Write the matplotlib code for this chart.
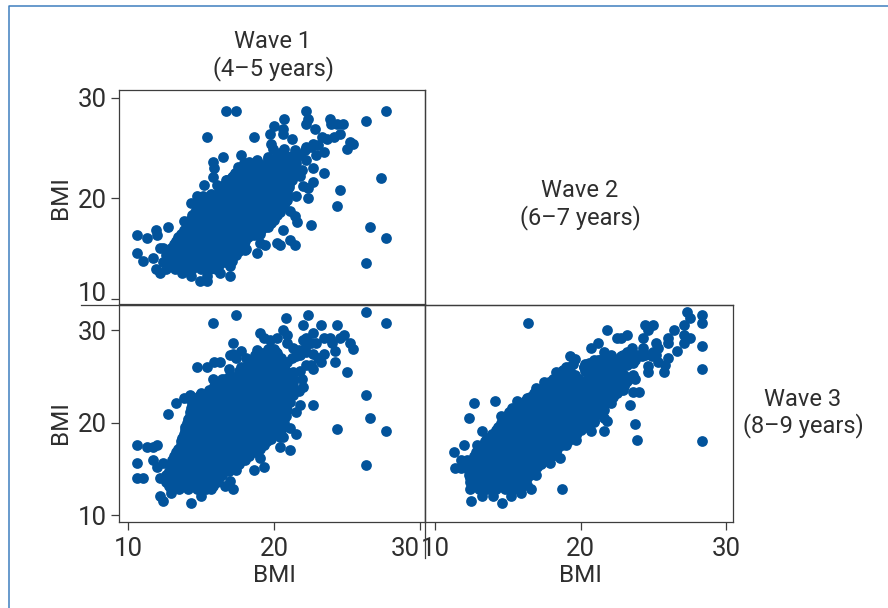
import matplotlib
matplotlib.use("Agg")
import matplotlib.pyplot as plt
from matplotlib.lines import Line2D

plt.rcParams['font.family'] = ['Roboto', 'DejaVu Sans']

W, H = 888, 608
DOT = '#02539b'
INK = '#2e2e2e'
FRAME = '#3d3d3d'
BORDER = '#3f7fbf'

# ---- Panel top-left: Wave 1 (x) against Wave 2 (y) ----
p1_edge_x = [16.7, 17.4, 15.4, 18.6, 20.7, 20.0, 19.7, 20.6, 20.6, 22.2, 22.3, 22.2, 22.8, 23.8, 23.9, 24.3, 24.7,
             26.3, 27.7, 23.3, 23.6, 24.1, 24.5, 25.2, 25.4, 25.0, 21.2, 19.8, 19.9, 20.7, 16.5, 17.7, 15.8, 15.9,
             15.8, 15.2, 27.3, 23.4, 22.7, 22.2, 23.4, 22.9, 22.7, 22.2, 21.9, 21.8, 22.7, 22.3, 22.0, 24.5, 22.3,
             24.3, 21.5, 21.1, 21.4, 21.6, 22.5, 20.6, 26.6, 27.7, 26.3, 21.4, 21.1, 20.2, 20.4, 19.4, 18.8, 19.0,
             18.0, 17.0, 17.1, 17.0, 16.3, 15.4, 15.4, 14.9, 14.3, 13.7, 12.2, 11.9, 10.6, 11.3, 11.9, 12.0, 12.7,
             10.6, 11.0, 11.7, 12.2, 12.4]
p1_edge_y = [28.7, 28.7, 26.1, 26.1, 27.9, 27.2, 26.4, 26.9, 26.4, 28.7, 27.9, 27.4, 26.9, 27.9, 27.4, 27.4, 27.4,
             27.7, 28.7, 26.1, 25.9, 26.1, 26.4, 25.6, 25.4, 24.9, 25.9, 25.4, 24.9, 24.9, 24.1, 24.3, 23.6, 23.0,
             22.1, 21.3, 22.0, 22.5, 23.0, 23.8, 24.6, 24.3, 25.4, 25.1, 22.8, 22.2, 21.6, 21.0, 21.2, 20.8, 20.0,
             19.2, 20.2, 18.7, 18.2, 17.7, 17.4, 16.9, 17.2, 16.1, 13.6, 15.4, 15.9, 15.6, 15.4, 15.4, 14.6, 15.6,
             14.9, 13.3, 13.8, 12.3, 12.6, 12.3, 11.8, 11.8, 12.3, 12.6, 12.6, 13.0, 16.4, 16.1, 16.9, 16.4, 17.2,
             14.6, 13.8, 14.1, 15.1, 15.1]
p1_extra_x = [21.4, 21.8, 22.1, 22.5, 23.0, 21.3, 21.5, 21.3, 20.9, 20.9, 20.2, 19.5, 19.0, 18.6, 18.1, 17.5, 17.9,
              18.3, 18.8, 19.6, 20.4, 20.7, 17.2, 16.7, 16.1, 15.1, 14.7, 14.3, 13.8]
p1_extra_y = [24.8, 24.3, 24.8, 25.1, 25.3, 24.1, 23.5, 22.5, 21.2, 19.8, 18.5, 17.5, 16.5, 16.4, 15.0, 23.1, 23.5,
              23.6, 23.8, 24.1, 24.5, 24.1, 22.2, 21.8, 21.3, 20.2, 20.2, 19.5, 17.8]
p1_core_y = [13.0, 13.7, 14.4, 15.1, 15.8, 16.5, 17.2, 17.9, 18.6, 19.3, 20.0, 20.7, 21.4, 22.1, 22.8, 23.5, 24.2]
p1_core_x = [
    [12.6, 13.2, 13.8, 14.4, 15.0, 15.6, 16.0],
    [12.4, 13.0, 13.6, 14.2, 14.8, 15.4, 16.0, 16.6],
    [12.6, 13.2, 13.8, 14.4, 15.0, 15.6, 16.2, 16.8, 17.4],
    [12.9, 13.5, 14.1, 14.7, 15.3, 15.9, 16.5, 17.1, 17.7],
    [13.3, 13.9, 14.5, 15.1, 15.7, 16.3, 16.9, 17.5, 18.0],
    [13.6, 14.2, 14.8, 15.4, 16.0, 16.6, 17.2, 17.8, 18.4, 18.9],
    [14.0, 14.6, 15.2, 15.8, 16.4, 17.0, 17.6, 18.2, 18.8, 19.4, 19.6],
    [14.2, 14.8, 15.4, 16.0, 16.6, 17.2, 17.8, 18.4, 19.0, 19.6, 20.0],
    [14.6, 15.2, 15.8, 16.4, 17.0, 17.6, 18.2, 18.8, 19.4, 20.0, 20.4],
    [14.8, 15.4, 16.0, 16.6, 17.2, 17.8, 18.4, 19.0, 19.6, 20.2, 20.7],
    [15.3, 15.9, 16.5, 17.1, 17.7, 18.3, 18.9, 19.5, 20.1, 20.7],
    [16.2, 16.8, 17.4, 18.0, 18.6, 19.2, 19.8, 20.4, 20.9],
    [16.6, 17.2, 17.8, 18.4, 19.0, 19.6, 20.2, 20.8, 21.0],
    [17.1, 17.7, 18.3, 18.9, 19.5, 20.1, 20.7, 21.2],
    [17.7, 18.3, 18.9, 19.5, 20.1, 20.7, 21.3],
    [18.9, 19.5, 20.1, 20.7, 21.3],
    [20.2, 20.8, 21.2],
]
p1_fill_y = [13.4, 14.1, 14.8, 15.5, 16.2, 16.9, 17.6, 18.3, 19.0, 19.7, 20.4, 21.1, 21.8, 22.5, 23.2, 23.9]
p1_fill_x = [
    [12.7, 13.3, 13.9, 14.5, 15.1, 15.7, 16.2],
    [12.8, 13.4, 14.0, 14.6, 15.2, 15.8, 16.4, 16.9],
    [12.9, 13.5, 14.1, 14.7, 15.3, 15.9, 16.5, 17.1, 17.6],
    [13.1, 13.7, 14.3, 14.9, 15.5, 16.1, 16.7, 17.3, 17.9],
    [13.4, 14.0, 14.6, 15.2, 15.8, 16.4, 17.0, 17.6, 18.2],
    [13.8, 14.4, 15.0, 15.6, 16.2, 16.8, 17.4, 18.0, 18.6, 19.1],
    [14.1, 14.7, 15.3, 15.9, 16.5, 17.1, 17.7, 18.3, 18.9, 19.5, 19.8],
    [14.4, 15.0, 15.6, 16.2, 16.8, 17.4, 18.0, 18.6, 19.2, 19.8, 20.2],
    [14.7, 15.3, 15.9, 16.5, 17.1, 17.7, 18.3, 18.9, 19.5, 20.1, 20.5],
    [15.0, 15.6, 16.2, 16.8, 17.4, 18.0, 18.6, 19.2, 19.8, 20.4, 20.8],
    [15.7, 16.3, 16.9, 17.5, 18.1, 18.7, 19.3, 19.9, 20.5, 20.9],
    [16.4, 17.0, 17.6, 18.2, 18.8, 19.4, 20.0, 20.6, 21.0],
    [16.8, 17.4, 18.0, 18.6, 19.2, 19.8, 20.4, 21.0, 21.2],
    [17.3, 17.9, 18.5, 19.1, 19.7, 20.3, 20.9, 21.3],
    [18.3, 18.9, 19.5, 20.1, 20.7, 21.3],
    [19.6, 20.2, 20.8, 21.2],
]

# ---- Panel bottom-left: Wave 1 (x) against Wave 3 (y) ----
p2_edge_x = [15.8, 17.4, 20.8, 22.3, 22.0, 23.2, 24.3, 26.3, 27.7, 19.0, 19.3, 20.6, 20.9, 20.2, 20.9, 22.2, 22.7,
             22.5, 22.9, 23.4, 23.8, 24.0, 24.5, 24.8, 25.2, 25.4, 24.2, 23.4, 24.2, 23.2, 22.7, 22.2, 25.0, 26.3,
             26.6, 27.7, 24.3, 26.3, 22.7, 21.8, 21.5, 22.0, 21.9, 21.3, 21.5, 21.3, 17.2, 17.7, 17.0, 18.7, 18.8,
             20.5, 14.7, 15.4, 15.9, 16.3, 16.9, 15.8, 13.8, 13.3, 12.7, 14.9, 10.6, 11.3, 11.7, 12.0, 10.6, 11.7,
             12.0, 12.4, 10.6, 11.0, 12.2, 12.2, 12.4, 12.9, 14.3, 15.0, 17.2, 16.6, 17.0, 17.4, 18.6, 19.3, 19.0,
             21.1, 20.4, 21.5, 20.6, 21.1]
p2_edge_y = [30.8, 31.7, 31.4, 31.7, 30.6, 30.6, 30.6, 32.0, 30.8, 29.7, 29.2, 30.0, 29.5, 29.2, 28.6, 29.2, 29.7,
             28.6, 28.6, 29.2, 29.2, 28.6, 29.2, 29.5, 28.6, 28.0, 27.8, 27.5, 26.6, 26.6, 25.8, 26.3, 25.5, 23.0,
             20.5, 19.1, 19.3, 15.4, 21.9, 21.9, 21.2, 23.9, 24.7, 25.5, 27.2, 28.1, 28.6, 27.8, 27.4, 27.4, 27.9,
             27.0, 26.1, 26.1, 26.6, 26.6, 25.8, 24.7, 22.7, 22.2, 21.0, 23.0, 17.6, 17.4, 17.4, 17.6, 15.7, 16.0,
             15.2, 15.7, 14.0, 14.0, 14.0, 12.1, 11.5, 12.4, 11.3, 12.1, 12.9, 13.2, 13.7, 14.9, 14.9, 15.2, 16.2,
             17.1, 17.4, 18.8, 18.5, 19.4]
p2_extra_x = [21.8, 22.2, 22.7, 23.0, 22.5, 21.8, 21.3, 21.7, 21.3, 21.1, 20.9, 20.5, 20.4, 19.8, 20.4, 19.7, 19.7,
              20.1, 20.9, 21.2, 22.0, 22.2, 21.7, 18.1, 17.4, 17.2, 17.7, 16.6, 14.2, 14.1]
p2_extra_y = [27.4, 27.7, 27.5, 27.0, 26.3, 25.6, 24.7, 23.4, 23.0, 22.3, 21.4, 20.0, 19.2, 18.3, 18.5, 28.1, 29.0,
              27.7, 26.6, 27.0, 29.0, 28.4, 27.9, 27.0, 27.0, 27.5, 26.1, 24.7, 23.0, 22.7]
p2_core_y = [12.8, 13.6, 14.4, 15.2, 16.0, 16.8, 17.6, 18.4, 19.2, 20.0, 20.8, 21.6, 22.4, 23.2, 24.0, 24.8, 25.6,
             26.4, 27.2, 28.0]
p2_core_x = [
    [12.9, 13.5, 14.1, 14.7, 15.3, 15.7],
    [12.6, 13.2, 13.8, 14.4, 15.0, 15.6, 16.1],
    [12.6, 13.2, 13.8, 14.4, 15.0, 15.6, 16.2, 16.4],
    [12.9, 13.5, 14.1, 14.7, 15.3, 15.9, 16.5, 17.1, 17.3],
    [13.0, 13.6, 14.2, 14.8, 15.4, 16.0, 16.6, 17.2, 17.8, 18.0],
    [13.3, 13.9, 14.5, 15.1, 15.7, 16.3, 16.9, 17.5, 18.1, 18.7],
    [13.6, 14.2, 14.8, 15.4, 16.0, 16.6, 17.2, 17.8, 18.4, 19.0, 19.3],
    [13.7, 14.3, 14.9, 15.5, 16.1, 16.7, 17.3, 17.9, 18.5, 19.1, 19.7],
    [13.9, 14.5, 15.1, 15.7, 16.3, 16.9, 17.5, 18.1, 18.7, 19.3, 19.9, 20.5],
    [14.0, 14.6, 15.2, 15.8, 16.4, 17.0, 17.6, 18.2, 18.8, 19.4, 20.0, 20.7],
    [14.2, 14.8, 15.4, 16.0, 16.6, 17.2, 17.8, 18.4, 19.0, 19.6, 20.2, 20.8],
    [14.3, 14.9, 15.5, 16.1, 16.7, 17.3, 17.9, 18.5, 19.1, 19.7, 20.3, 20.8],
    [14.5, 15.1, 15.7, 16.3, 16.9, 17.5, 18.1, 18.7, 19.3, 19.9, 20.5, 20.9],
    [15.0, 15.6, 16.2, 16.8, 17.4, 18.0, 18.6, 19.2, 19.8, 20.4, 21.0],
    [15.9, 16.5, 17.1, 17.7, 18.3, 18.9, 19.5, 20.1, 20.7, 21.3],
    [16.4, 17.0, 17.6, 18.2, 18.8, 19.4, 20.0, 20.6, 21.3],
    [17.6, 18.2, 18.8, 19.4, 20.0, 20.6, 20.8],
    [18.3, 18.9, 19.5, 20.1, 20.6],
    [18.9, 19.5, 20.1, 20.3],
    [19.6, 20.0],
]
p2_fill_y = [13.2, 14.0, 14.8, 15.6, 16.4, 17.2, 18.0, 18.8, 19.6, 20.4, 21.2, 22.0, 22.8, 23.6, 24.4, 25.2, 26.0,
             26.8, 27.6]
p2_fill_x = [
    [12.8, 13.4, 14.0, 14.6, 15.2, 15.8],
    [12.6, 13.2, 13.8, 14.4, 15.0, 15.6, 16.2],
    [12.8, 13.4, 14.0, 14.6, 15.2, 15.8, 16.4, 16.9],
    [13.0, 13.6, 14.2, 14.8, 15.4, 16.0, 16.6, 17.2, 17.6],
    [13.1, 13.7, 14.3, 14.9, 15.5, 16.1, 16.7, 17.3, 17.9, 18.3],
    [13.4, 14.0, 14.6, 15.2, 15.8, 16.4, 17.0, 17.6, 18.2, 18.8, 19.0],
    [13.6, 14.2, 14.8, 15.4, 16.0, 16.6, 17.2, 17.8, 18.4, 19.0, 19.5],
    [13.8, 14.4, 15.0, 15.6, 16.2, 16.8, 17.4, 18.0, 18.6, 19.2, 19.8, 20.1],
    [13.9, 14.5, 15.1, 15.7, 16.3, 16.9, 17.5, 18.1, 18.7, 19.3, 19.9, 20.6],
    [14.1, 14.7, 15.3, 15.9, 16.5, 17.1, 17.7, 18.3, 18.9, 19.5, 20.1, 20.7],
    [14.2, 14.8, 15.4, 16.0, 16.6, 17.2, 17.8, 18.4, 19.0, 19.6, 20.2, 20.8],
    [14.4, 15.0, 15.6, 16.2, 16.8, 17.4, 18.0, 18.6, 19.2, 19.8, 20.4, 20.9],
    [14.8, 15.4, 16.0, 16.6, 17.2, 17.8, 18.4, 19.0, 19.6, 20.2, 20.8],
    [15.5, 16.1, 16.7, 17.3, 17.9, 18.5, 19.1, 19.7, 20.3, 20.9, 21.2],
    [16.2, 16.8, 17.4, 18.0, 18.6, 19.2, 19.8, 20.4, 21.0, 21.3],
    [17.0, 17.6, 18.2, 18.8, 19.4, 20.0, 20.6, 21.0],
    [18.0, 18.6, 19.2, 19.8, 20.4, 20.7],
    [18.6, 19.2, 19.8, 20.4],
    [19.2, 19.8, 20.2],
]

# ---- Panel bottom-right: Wave 2 (x) against Wave 3 (y) ----
p3_edge_x = [16.4, 21.8, 22.5, 22.8, 23.2, 24.4, 25.0, 24.6, 24.3, 25.2, 25.3, 26.4, 27.1, 27.3, 27.5, 28.3, 28.3,
             28.3, 28.3, 28.3, 27.1, 27.5, 27.1, 26.0, 26.0, 26.6, 26.0, 25.8, 25.7, 25.3, 24.6, 24.6, 24.3, 23.5,
             21.2, 20.7, 21.6, 22.1, 19.3, 19.6, 18.3, 16.9, 17.5, 16.3, 15.6, 14.1, 12.7, 12.3, 14.5, 13.2, 12.0,
             11.3, 11.8, 12.2, 11.4, 12.9, 12.5, 13.2, 14.0, 14.6, 15.2, 15.9, 16.6, 18.7, 18.6, 17.9, 23.6, 24.0,
             23.4, 23.7, 23.9, 23.7, 21.6, 21.8, 20.7, 21.6, 20.9, 22.1, 19.7, 19.0, 23.2, 23.8, 24.4, 24.9]
p3_edge_y = [30.8, 30.0, 29.2, 29.2, 29.5, 30.6, 30.6, 30.0, 29.2, 28.6, 28.1, 30.0, 30.6, 32.0, 31.4, 31.7, 30.8,
             28.3, 25.8, 18.0, 29.5, 29.2, 28.6, 29.2, 28.6, 27.8, 27.0, 26.3, 25.5, 26.6, 26.2, 25.5, 28.1, 28.1,
             28.6, 28.1, 27.7, 27.2, 27.2, 26.9, 25.5, 23.8, 24.4, 22.7, 22.4, 22.4, 22.2, 20.5, 20.8, 19.1, 17.6,
             16.8, 16.0, 16.0, 15.1, 17.6, 11.5, 12.1, 12.1, 11.3, 12.1, 12.4, 12.9, 12.9, 16.2, 15.7, 23.3, 23.3,
             21.9, 19.9, 18.2, 24.7, 20.5, 20.2, 19.1, 19.1, 20.2, 22.1, 18.2, 17.6, 27.7, 27.4, 27.3, 27.2]
p3_extra_x = [22.9, 23.3, 23.6, 24.0, 24.4, 25.0, 25.2, 23.6, 23.2, 22.7, 22.1, 21.8, 21.3, 20.9, 20.6, 20.2, 19.0,
              18.8, 23.6, 23.2, 22.9, 22.5, 22.1, 21.6, 20.9, 20.2, 19.7, 18.1, 16.9, 16.3, 11.8, 11.9, 12.4, 12.4]
p3_extra_y = [27.4, 27.0, 27.4, 27.4, 27.5, 27.7, 27.4, 26.5, 26.3, 26.6, 27.4, 27.0, 26.8, 26.8, 26.5, 26.1, 26.1,
              25.7, 25.2, 24.5, 23.6, 23.2, 22.7, 21.4, 20.1, 19.6, 18.7, 16.5, 14.4, 13.3, 15.1, 15.4, 13.6, 12.9]
p3_core_y = [12.8, 13.6, 14.4, 15.2, 16.0, 16.8, 17.6, 18.4, 19.2, 20.0, 20.8, 21.6, 22.4, 23.2, 24.0, 24.8, 25.6,
             26.4, 27.2]
p3_core_x = [
    [13.0, 13.6, 14.2, 14.8, 15.4, 15.8],
    [12.5, 13.1, 13.7, 14.3, 14.9, 15.5, 16.0],
    [12.3, 12.9, 13.5, 14.1, 14.7, 15.3, 15.9, 16.5],
    [12.4, 13.0, 13.6, 14.2, 14.8, 15.4, 16.0, 16.6, 17.0],
    [12.6, 13.2, 13.8, 14.4, 15.0, 15.6, 16.2, 16.8, 17.4, 17.7],
    [12.8, 13.4, 14.0, 14.6, 15.2, 15.8, 16.4, 17.0, 17.6, 18.3],
    [13.2, 13.8, 14.4, 15.0, 15.6, 16.2, 16.8, 17.4, 18.0, 18.7],
    [13.6, 14.2, 14.8, 15.4, 16.0, 16.6, 17.2, 17.8, 18.4, 19.0, 19.4],
    [14.2, 14.8, 15.4, 16.0, 16.6, 17.2, 17.8, 18.4, 19.0, 19.6, 20.0],
    [14.5, 15.1, 15.7, 16.3, 16.9, 17.5, 18.1, 18.7, 19.3, 19.9, 20.5],
    [14.9, 15.5, 16.1, 16.7, 17.3, 17.9, 18.5, 19.1, 19.7, 20.3, 21.0],
    [15.3, 15.9, 16.5, 17.1, 17.7, 18.3, 18.9, 19.5, 20.1, 20.7, 21.4],
    [16.2, 16.8, 17.4, 18.0, 18.6, 19.2, 19.8, 20.4, 21.0, 21.6, 22.0],
    [16.8, 17.4, 18.0, 18.6, 19.2, 19.8, 20.4, 21.0, 21.6, 22.4],
    [17.5, 18.1, 18.7, 19.3, 19.9, 20.5, 21.1, 21.7, 22.3, 23.0],
    [18.1, 18.7, 19.3, 19.9, 20.5, 21.1, 21.7, 22.3, 23.1],
    [18.7, 19.3, 20.3, 20.9, 21.5, 22.1, 22.8],
    [19.5, 20.3, 20.9, 21.5, 22.4, 23.0],
    [22.8, 23.4, 24.2],
]
p3_fill_y = [13.2, 14.0, 14.8, 15.6, 16.4, 17.2, 18.0, 18.8, 19.6, 20.4, 21.2, 22.0, 22.8, 23.6, 24.4, 25.2, 26.0,
             26.8]
p3_fill_x = [
    [12.7, 13.3, 13.9, 14.5, 15.1, 15.7, 15.9],
    [12.4, 13.0, 13.6, 14.2, 14.8, 15.4, 16.0, 16.3],
    [12.3, 12.9, 13.5, 14.1, 14.7, 15.3, 15.9, 16.5, 16.8],
    [12.5, 13.1, 13.7, 14.3, 14.9, 15.5, 16.1, 16.7, 17.3],
    [12.7, 13.3, 13.9, 14.5, 15.1, 15.7, 16.3, 16.9, 17.5, 18.0],
    [13.0, 13.6, 14.2, 14.8, 15.4, 16.0, 16.6, 17.2, 17.8, 18.4],
    [13.4, 14.0, 14.6, 15.2, 15.8, 16.4, 17.0, 17.6, 18.2, 18.8, 19.1],
    [13.9, 14.5, 15.1, 15.7, 16.3, 16.9, 17.5, 18.1, 18.7, 19.3, 19.7],
    [14.3, 14.9, 15.5, 16.1, 16.7, 17.3, 17.9, 18.5, 19.1, 19.7, 20.2],
    [14.7, 15.3, 15.9, 16.5, 17.1, 17.7, 18.3, 18.9, 19.5, 20.1, 20.7],
    [15.1, 15.7, 16.3, 16.9, 17.5, 18.1, 18.7, 19.3, 19.9, 20.5, 21.2],
    [15.7, 16.3, 16.9, 17.5, 18.1, 18.7, 19.3, 19.9, 20.5, 21.1, 21.7],
    [16.5, 17.1, 17.7, 18.3, 18.9, 19.5, 20.1, 20.7, 21.3, 22.2],
    [17.2, 17.8, 18.4, 19.0, 19.6, 20.2, 20.8, 21.4, 22.0, 22.7],
    [17.8, 18.4, 19.0, 19.6, 20.2, 20.8, 21.4, 22.0, 22.6, 23.1],
    [18.4, 19.0, 19.6, 20.6, 21.2, 21.8, 22.4, 23.0],
    [19.2, 20.2, 20.8, 21.4, 22.0, 22.7],
    [21.2, 21.8, 22.4, 23.1, 23.7],
]

tick_values = [10, 20, 30]
axis_label = 'BMI'
wave_titles = ['Wave 1\n(4–5 years)', 'Wave 2\n(6–7 years)', 'Wave 3\n(8–9 years)']


def flatten(edge_x, edge_y, extra_x, extra_y, *row_sets):
    xs = list(edge_x) + list(extra_x)
    ys = list(edge_y) + list(extra_y)
    for core_x, core_y in row_sets:
        for y, row in zip(core_y, core_x):
            xs.extend(row)
            ys.extend([y] * len(row))
    return xs, ys


def make_axes(left, top, right, bottom, xlim, ylim):
    ax = fig.add_axes([left / W, 1 - bottom / H, (right - left) / W, (bottom - top) / H])
    ax.set_xlim(*xlim)
    ax.set_ylim(*ylim)
    for s in ax.spines.values():
        s.set_linewidth(0.9)
        s.set_color(FRAME)
    ax.tick_params(length=6, width=0.9, color=FRAME, labelcolor=INK, labelsize=18.5, pad=3)
    ax.tick_params(axis='x', pad=5)
    return ax


fig = plt.figure(figsize=(W / 100, H / 100), dpi=100, facecolor='white')

ax1 = make_axes(119.3, 89.7, 425, 304.4, (9.38, 30.35), (9.47, 30.79))
ax2 = make_axes(119.3, 304.6, 425, 521.7, (9.38, 30.35), (9.31, 32.8))
ax3 = make_axes(425, 304.6, 733.3, 521.7, (9.31, 30.48), (9.31, 32.8))

panels = (
    (ax1, flatten(p1_edge_x, p1_edge_y, p1_extra_x, p1_extra_y, (p1_core_x, p1_core_y), (p1_fill_x, p1_fill_y))),
    (ax2, flatten(p2_edge_x, p2_edge_y, p2_extra_x, p2_extra_y, (p2_core_x, p2_core_y), (p2_fill_x, p2_fill_y))),
    (ax3, flatten(p3_edge_x, p3_edge_y, p3_extra_x, p3_extra_y, (p3_core_x, p3_core_y), (p3_fill_x, p3_fill_y))),
)
for ax, (x, y) in panels:
    ax.scatter(x, y, s=60, color=DOT, linewidths=0, zorder=3, clip_on=False)

ax1.set_xticks([])
ax1.set_yticks(tick_values)
ax1.set_yticklabels(['', '20', '30'])
ax1.annotate('10', xy=(0, 10), xycoords=ax1.get_yaxis_transform(), xytext=(-9, 3.5), textcoords='offset points',
             ha='right', va='center', fontsize=18.5, color=INK)
ax2.set_xticks(tick_values)
ax2.set_xticklabels(['10', '20', '30'])
ax2.get_xticklabels()[2].set_ha('right')
ax2.set_yticks(tick_values)
ax3.set_xticks(tick_values)
ax3.set_yticks([])

# extended guide lines of the matrix
fig.add_artist(Line2D([81 / W, 733 / W], [1 - 304.5 / H] * 2, color=FRAME, lw=0.9))
fig.add_artist(Line2D([425 / W] * 2, [1 - 90 / H, 1 - 558 / H], color=FRAME, lw=0.9))
# outer panel border of the source page
fig.add_artist(Line2D([9.3 / W, 9.3 / W, 1], [0, 1 - 6 / H, 1 - 6 / H], color=BORDER, lw=1.1))

for cx, cy, txt in ((273, 55.5, wave_titles[0]), (580, 204.5, wave_titles[1]), (803, 413, wave_titles[2])):
    fig.text(cx / W, 1 - cy / H, txt, ha='center', va='center', fontsize=17, color=INK, linespacing=1.15)
for cy in (198, 423):
    fig.text(60 / W, 1 - cy / H, axis_label, rotation=90, ha='center', va='center', fontsize=17.5, color=INK)
for cx in (274, 580):
    fig.text(cx / W, 1 - 575 / H, axis_label, ha='center', va='center', fontsize=17.5, color=INK)

fig.savefig('out.png', dpi=100)
